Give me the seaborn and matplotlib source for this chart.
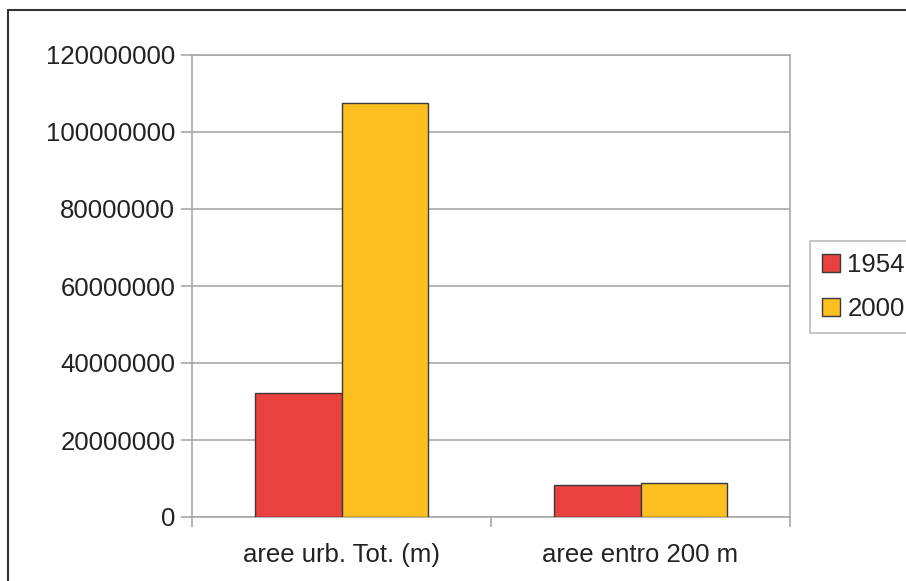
import matplotlib
matplotlib.use("Agg")
import matplotlib.pyplot as plt
import matplotlib.ticker as mticker
from matplotlib.lines import Line2D
import pandas as pd
import seaborn as sns

# Data
categories = ["aree urb. Tot. (m)", "aree entro 200 m"]
years = ["1954", "2000"]
values_1954 = [32200000, 8300000]
values_2000 = [107500000, 8800000]
y_ticks = [0, 20000000, 40000000, 60000000, 80000000, 100000000, 120000000]

rows = []
for cat, v54, v00 in zip(categories, values_1954, values_2000):
    rows.append({"categoria": cat, "anno": years[0], "valore": v54})
    rows.append({"categoria": cat, "anno": years[1], "valore": v00})
df = pd.DataFrame(rows)

sns.set_theme(style="white")
plt.rcParams["font.family"] = ["Liberation Sans", "DejaVu Sans"]

fig = plt.figure(figsize=(9.06, 5.81), dpi=100)
ax = fig.add_axes([192 / 906, 1 - 517 / 581, (790 - 192) / 906, (517 - 55) / 581])

palette = {"1954": "#E8413F", "2000": "#FCBF1F"}
sns.barplot(data=df, x="categoria", y="valore", hue="anno", order=categories,
            hue_order=years, palette=palette, width=0.58, gap=0,
            edgecolor="#3a3a3a", linewidth=1.0, saturation=1, ax=ax, zorder=3)

grid_c = "#a8a8a8"
text_c = "#222222"
fs = 18.5
ax.set_ylim(0, 120000000)
ax.set_xlim(-0.5, 1.5)
ax.set_yticks(y_ticks)
ax.yaxis.set_major_formatter(mticker.FuncFormatter(lambda v, p: f"{int(v)}"))
ax.yaxis.grid(True, color=grid_c, linewidth=1.2, zorder=0)
ax.set_axisbelow(True)
for s in ax.spines.values():
    s.set_visible(True)
    s.set_color(grid_c)
    s.set_linewidth(1.2)

ax.set_xlabel("")
ax.set_ylabel("")
ax.tick_params(axis="y", which="major", direction="out", length=8, width=1.2,
               color=grid_c, left=True, labelsize=fs, labelcolor=text_c, pad=4)
ax.tick_params(axis="x", which="major", length=0, labelsize=fs,
               labelcolor=text_c, pad=19)
ax.set_xticks([-0.5, 0.5, 1.5], minor=True)
ax.tick_params(axis="x", which="minor", direction="out", length=7, width=1.2,
               color=grid_c, bottom=True)

leg = ax.legend(loc="upper left", bbox_to_anchor=(810 / 906, 1 - 241 / 581),
                bbox_transform=fig.transFigure, frameon=True, fontsize=fs,
                handlelength=0.7, handleheight=0.7, handletextpad=0.3,
                labelspacing=0.8, borderpad=0.45, fancybox=False,
                borderaxespad=0)
leg.get_frame().set_edgecolor(grid_c)
leg.get_frame().set_linewidth(1.2)
for t in leg.get_texts():
    t.set_color(text_c)

# Outer chart frame
fig.add_artist(Line2D([8 / 906, 1.0], [1 - 10 / 581, 1 - 10 / 581],
                      transform=fig.transFigure, color="#333333", linewidth=1.5))
fig.add_artist(Line2D([8 / 906, 8 / 906], [0.0, 1 - 10 / 581],
                      transform=fig.transFigure, color="#333333", linewidth=1.5))

fig.savefig("out.png", dpi=100)
